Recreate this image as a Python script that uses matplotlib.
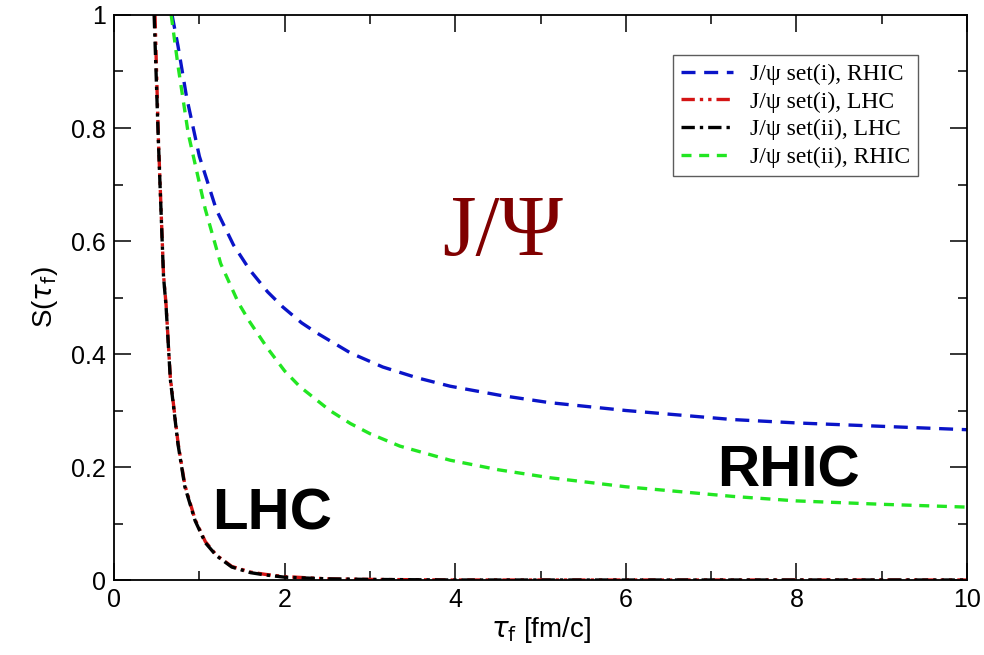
import matplotlib
matplotlib.use("Agg")
import matplotlib.pyplot as plt
from matplotlib.ticker import MultipleLocator, FixedLocator, FixedFormatter

# ---- data ----
blue_x = [0.68, 0.75, 0.85, 1.0, 1.2, 1.4, 1.59, 1.8, 1.98, 2.2, 2.38, 2.77, 3.15, 3.55, 3.94, 4.52, 5.1, 6.0, 7.25, 8.0, 9.0, 10.0]
blue_y = [1.0, 0.945, 0.855, 0.75, 0.655, 0.593, 0.549, 0.51, 0.483, 0.455, 0.437, 0.402, 0.377, 0.358, 0.343, 0.327, 0.314, 0.300, 0.284, 0.278, 0.272, 0.266]

green_x = [0.67, 0.75, 0.87, 1.07, 1.25, 1.46, 1.59, 1.8, 2.0, 2.18, 2.53, 2.77, 3.0, 3.35, 3.94, 4.51, 5.11, 6.0, 7.25, 8.0, 9.0, 10.0]
green_y = [1.0, 0.91, 0.79, 0.656, 0.56, 0.49, 0.457, 0.41, 0.37, 0.342, 0.300, 0.277, 0.259, 0.237, 0.212, 0.195, 0.181, 0.165, 0.148, 0.140, 0.134, 0.129]

lhc1_x = [0.48, 0.52, 0.58, 0.61, 0.66, 0.75, 0.83, 0.95, 1.07, 1.2, 1.38, 1.6, 1.77, 2.0, 2.5, 3.0, 4.0, 5.0, 6.0, 7.0, 8.0, 9.0, 10.0]
lhc1_y = [1.0, 0.78, 0.54, 0.487, 0.358, 0.243, 0.168, 0.107, 0.068, 0.044, 0.024, 0.014, 0.010, 0.006, 0.002, 0.001, 0.0, 0.0, 0.0, 0.0, 0.0, 0.0, 0.0]

lhc2_x = [0.47, 0.52, 0.58, 0.61, 0.66, 0.75, 0.83, 0.95, 1.07, 1.2, 1.38, 1.6, 1.77, 2.0, 2.5, 3.0, 4.0, 5.0, 6.0, 7.0, 8.0, 9.0, 10.0]
lhc2_y = [1.0, 0.775, 0.537, 0.484, 0.355, 0.24, 0.165, 0.105, 0.066, 0.043, 0.023, 0.013, 0.009, 0.005, 0.002, 0.001, 0.0, 0.0, 0.0, 0.0, 0.0, 0.0, 0.0]

labels = ["J/\u03c8 set(i), RHIC", "J/\u03c8 set(i), LHC", "J/\u03c8 set(ii), LHC", "J/\u03c8 set(ii), RHIC"]
x_ticks = [0, 2, 4, 6, 8, 10]
y_ticks = [0, 0.2, 0.4, 0.6, 0.8, 1.0]
y_tick_labels = ["0", "0.2", "0.4", "0.6", "0.8", "1"]

plt.rcParams['font.family'] = ['Liberation Sans', 'DejaVu Sans']

fig = plt.figure(figsize=(9.84, 6.55), dpi=100)
ax = fig.add_axes([0.1159, 0.1145, 0.8669, 0.8626])

ax.plot(blue_x, blue_y, color='#0a14c8', lw=2.4, dashes=(4.2, 2.6), label=labels[0])
ax.plot(lhc1_x, lhc1_y, color='#d41414', lw=2.4, dashes=(4, 1.5, 1, 1.5, 1, 1.5), label=labels[1])
ax.plot(lhc2_x, lhc2_y, color='black', lw=2.4, dashes=(4, 1.5, 1, 1.5), label=labels[2])
ax.plot(green_x, green_y, color='#22e622', lw=2.4, dashes=(3.0, 2.3), label=labels[3])

ax.set_xlim(0, 10)
ax.set_ylim(0, 1)
ax.xaxis.set_major_locator(FixedLocator(x_ticks))
ax.xaxis.set_minor_locator(MultipleLocator(1))
ax.yaxis.set_major_locator(FixedLocator(y_ticks))
ax.yaxis.set_major_formatter(FixedFormatter(y_tick_labels))
ax.yaxis.set_minor_locator(MultipleLocator(0.1))
ax.tick_params(which='both', direction='in', top=True, right=True, width=1.1)
ax.tick_params(which='major', length=12, labelsize=18, pad=6)
ax.tick_params(which='minor', length=6.5)
for s in ax.spines.values():
    s.set_linewidth(1.3)

ax.set_xlabel(r'$\tau_{\rm f}$ [fm/c]', fontsize=20, labelpad=2)
ax.set_ylabel(r'S($\tau_{\rm f}$)', fontsize=20, labelpad=8)

leg = ax.legend(loc='upper right', bbox_to_anchor=(0.9426, 0.929), borderaxespad=0,
                prop={'family': ['Liberation Serif', 'DejaVu Serif'], 'size': 17},
                frameon=True, fancybox=False, edgecolor='#333333', handlelength=2.2,
                borderpad=0.35, labelspacing=0.26, handletextpad=0.7)
leg.get_frame().set_linewidth(1.0)

ax.text(4.56, 0.575, "J/\u03a8", color='#800000', fontsize=62, family=['Liberation Serif', 'DejaVu Serif'],
        ha='center', va='baseline')
ax.text(1.85, 0.0885, "LHC", color='black', fontsize=42, fontweight='bold', ha='center', va='baseline')
ax.text(7.9, 0.165, "RHIC", color='black', fontsize=42, fontweight='bold', ha='center', va='baseline')

fig.savefig('out.png', dpi=100)
